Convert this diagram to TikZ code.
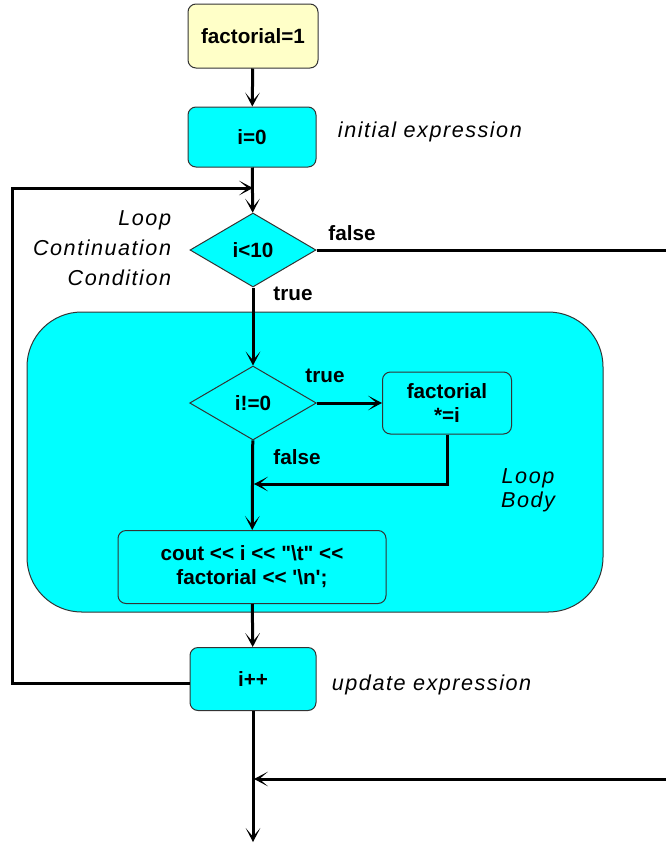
\documentclass[tikz,border=0pt]{standalone}
\usepackage{fontspec}
\setmainfont{Liberation Sans}
\newfontfamily\notefont[LetterSpace=7]{Liberation Sans}
\usetikzlibrary{arrows.meta, positioning, shapes.geometric, calc, backgrounds}
\definecolor{ccyan}{HTML}{00FFFF}
\definecolor{cyellow}{HTML}{FFFFC8}
\definecolor{cedge}{HTML}{333333}
\newcommand{\shl}{<\kern0pt<}
\tikzset{
  every picture/.style={font=\fontsize{15.5}{18}\selectfont\bfseries, line width=2.25pt},
  box/.style={draw=cedge, fill=#1, line width=0.75pt, rounded corners=6pt, align=center, inner sep=3pt},
  box/.default=ccyan,
  cond/.style={diamond, draw=cedge, fill=ccyan, line width=0.75pt, inner sep=1pt, aspect=1.7},
  arrow/.style={-{Stealth[length=10.5pt, width=11pt, inset=6.5pt]}, draw=black},
  link/.style={draw=black},
  note/.style={font=\notefont\fontsize{16.2}{22.5}\selectfont\itshape, align=center},
}
\begin{document}
\begin{tikzpicture}[x=0.75pt, y=-0.75pt]
  \useasboundingbox (0,0) rectangle (666,843);
  % loop body region
  \node[box, rounded corners=41pt, minimum width=432pt, minimum height=225pt] (body) at (315,462) {};
  \node[box=cyellow, minimum width=97.5pt, minimum height=48pt] (init) at (253,36) {factorial=1};
  \node[box, minimum width=96pt, minimum height=45pt] (start) at (252,137) {i=0};
  \node[note, anchor=west] at (332,132) {initial expression};
  \node[cond, minimum width=94.5pt, minimum height=55.5pt] (test) at (253,250) {i<10};
  \node[note, align=right, anchor=east] at (177,248) {Loop\\Continuation\\Condition};
  \node[cond, minimum width=95pt, minimum height=55.5pt] (check) at (253,403) {i!=0};
  \node[box, minimum width=96.75pt, minimum height=46.5pt] (mult) at (447,403) {factorial\\*=i};
  \node[note, font=\notefont\fontsize{16.2}{18}\selectfont\itshape] at (528,490) {Loop\\Body};
  \node[box, minimum width=201pt, minimum height=54.75pt] (print) at (252,567)
    {cout \shl{} i \shl{} \textquotedbl\textbackslash t\textquotedbl\ \shl\\factorial \shl{} \textquotesingle\textbackslash n\textquotesingle;};
  \node[box, minimum width=94.5pt, minimum height=47.25pt] (incr) at (253,679) {i++};
  \node[note, anchor=west] at (326,685) {update expression};
  % free ends
  \coordinate (join) at (253,188);
  \coordinate (back) at (12,683);
  \coordinate (exitf) at (666,250);
  \coordinate (merge) at (254,484);
  \coordinate (enter) at (666,779);
  \coordinate (merge2) at (254,779);
  \coordinate (done) at (253,842);
  % connectors
  \draw[arrow] (init) -- (start);
  \draw[arrow] (start) -- (test);
  \draw[arrow] (incr.west |- back) -- (back) |- (join);
  \draw[link] (test.east) -- (exitf);
  \node at (352,233) {false};
  \node at (293,294) {true};
  \draw[arrow] (test) -- (check);
  \draw[arrow] (check) -- (mult);
  \node at (325,376) {true};
  \draw[arrow] (mult.south) |- (merge);
  \node at (297,457) {false};
  \draw[arrow] (check) -- (print);
  \draw[arrow] (print) -- (incr);
  \draw[arrow] (incr) -- (done);
  \draw[arrow] (enter) -- (merge2);
\end{tikzpicture}
\end{document}
